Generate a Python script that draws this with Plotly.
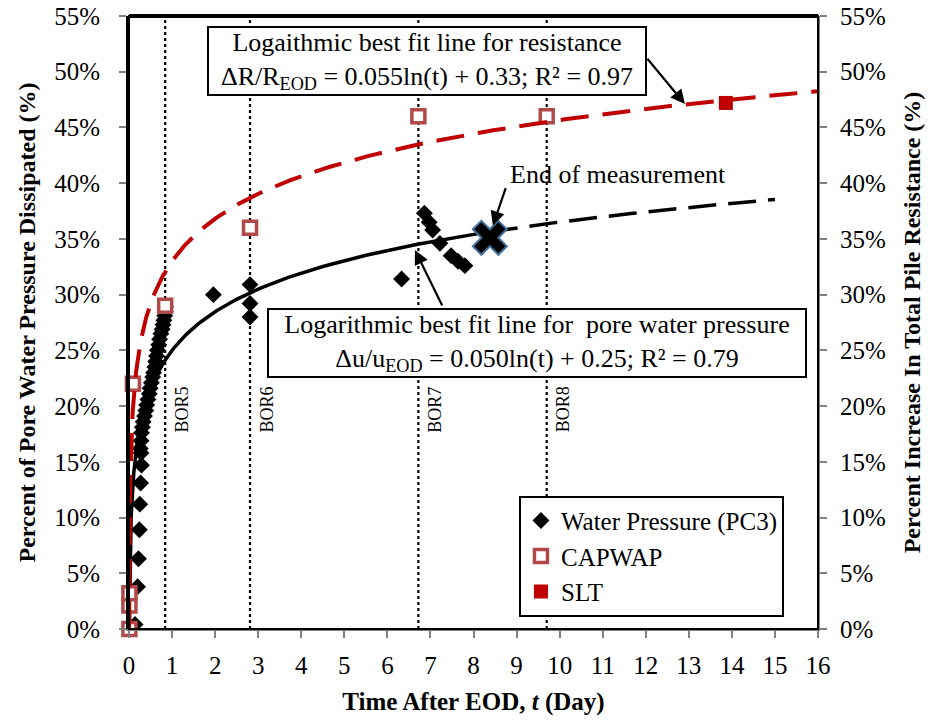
import numpy as np
import plotly.graph_objects as go

# ---------------- data ----------------
# Water pressure (PC3): time (day), percent dissipated
wp_t = [0.00, 0.14, 0.20, 0.22, 0.24, 0.25, 0.27, 0.29, 0.28,
        0.26, 0.28, 0.29, 0.31, 0.33, 0.36, 0.39, 0.41, 0.44, 0.47, 0.49,
        0.52, 0.55, 0.57, 0.60, 0.62, 0.64, 0.66, 0.69, 0.71, 0.74, 0.77,
        0.79, 0.81, 0.83, 0.84, 0.85,
        1.96, 2.81, 2.81, 2.81, 6.33, 6.86, 6.97, 7.05, 7.22, 7.48, 7.64, 7.80]
wp_v = [0.0, 0.4, 3.8, 6.3, 8.9, 11.2, 13.1, 14.7, 15.8,
        16.2, 16.9, 17.6, 18.1, 18.6, 19.1, 19.6, 20.1, 20.6, 21.1, 21.6,
        22.1, 22.6, 23.0, 23.5, 24.0, 24.5, 25.0, 25.5, 26.0, 26.5, 26.9,
        27.3, 27.7, 28.1, 28.5, 28.9,
        30.0, 30.9, 29.2, 28.0, 31.4, 37.3, 36.5, 35.8, 34.6, 33.5, 33.0, 32.6]

# CAPWAP (percent increase in total pile resistance)
cap_t = [0.01, 0.01, 0.01, 0.09, 0.84, 2.81, 6.72, 9.70]
cap_v = [0.0, 2.1, 3.2, 22.0, 29.0, 36.0, 46.0, 46.0]

# Static load test
slt_t = [13.86]
slt_v = [47.2]

# End of measurement
end_t = [8.38]
end_v = [35.1]

# Restrike times (BOR)
bor_t = [0.84, 2.81, 6.72, 9.70]
bor_lbl = ["BOR5", "BOR6", "BOR7", "BOR8"]

# Logarithmic best-fit coefficients (as shown on the chart)
res_a, res_b, res_tmax = 0.055, 0.33, 16.0
pwp_a, pwp_b, pwp_tmax = 0.050, 0.25, 15.0

x_ticks = list(range(0, 17))
y_ticks = list(range(0, 56, 5))

FONT = "Liberation Serif"
RED = "#c00000"
CAP = "#b04a4a"

# fit curves from the chart's equations
t_res = np.geomspace(np.exp(-res_b / res_a), res_tmax, 400)
v_res = 100 * (res_a * np.log(t_res) + res_b)
t_pw1 = np.geomspace(np.exp(-pwp_b / pwp_a), end_t[0], 400)
v_pw1 = 100 * (pwp_a * np.log(t_pw1) + pwp_b)
t_pw2 = np.linspace(end_t[0], pwp_tmax, 100)
v_pw2 = 100 * (pwp_a * np.log(t_pw2) + pwp_b)

fig = go.Figure()

fig.add_trace(go.Scatter(x=wp_t, y=wp_v, mode="markers", name="Water Pressure (PC3)",
                         marker=dict(symbol="diamond", size=13, color="black"),
                         cliponaxis=False))
fig.add_trace(go.Scatter(x=cap_t, y=cap_v, mode="markers", name="CAPWAP", yaxis="y2",
                         marker=dict(symbol="square", size=13, color="white",
                                     line=dict(color=CAP, width=3.5)),
                         cliponaxis=False))
fig.add_trace(go.Scatter(x=slt_t, y=slt_v, mode="markers", name="SLT", yaxis="y2",
                         marker=dict(symbol="square", size=14, color=RED),
                         cliponaxis=False))
fig.add_trace(go.Scatter(x=t_res, y=v_res, mode="lines", showlegend=False, yaxis="y2",
                         line=dict(color=RED, width=4, dash="28px,14px"), hoverinfo="skip"))
fig.add_trace(go.Scatter(x=t_pw1, y=v_pw1, mode="lines", showlegend=False,
                         line=dict(color="black", width=3.5), hoverinfo="skip"))
fig.add_trace(go.Scatter(x=t_pw2, y=v_pw2, mode="lines", showlegend=False,
                         line=dict(color="black", width=3.5, dash="28px,12px"), hoverinfo="skip"))
fig.add_trace(go.Scatter(x=end_t, y=end_v, mode="markers", showlegend=False,
                         marker=dict(symbol="x", size=30, color="black",
                                     line=dict(color="#41719c", width=2)),
                         cliponaxis=False))

shapes = []
for bt in bor_t:
    shapes.append(dict(type="line", xref="x", yref="paper", x0=bt, x1=bt, y0=0, y1=1,
                       line=dict(color="black", width=2.2, dash="dot"), layer="below"))
shapes.append(dict(type="rect", xref="paper", yref="paper", x0=0, x1=1, y0=0, y1=1,
                   line=dict(color="black", width=2)))
shapes.append(dict(type="line", xref="paper", yref="paper", x0=0, x1=1, y0=1, y1=1,
                   line=dict(color="black", width=4)))

ann = []
for bt, lb in zip(bor_t, bor_lbl):
    ann.append(dict(x=bt, y=19.7, xref="x", yref="y", text=lb, showarrow=False,
                    textangle=-90, xshift=17, font=dict(family=FONT, size=18, color="black")))

ann.append(dict(x=6.92, y=51.0, xref="x", yref="y",
                text="Logaithmic best fit line for resistance<br>ΔR/R<sub>EOD</sub> = 0.055ln(t) + 0.33; R² = 0.97",
                showarrow=False, bgcolor="white", bordercolor="black", borderwidth=2,
                borderpad=2, width=432, height=62,
                font=dict(family=FONT, size=26, color="black")))
ann.append(dict(x=9.48, y=25.7, xref="x", yref="y",
                text="Logarithmic best fit line for \u00a0pore water pressure<br>Δu/u<sub>EOD</sub> = 0.050ln(t) + 0.25; R² = 0.79",
                showarrow=False, bgcolor="white", bordercolor="black", borderwidth=2,
                borderpad=2, width=532, height=62,
                font=dict(family=FONT, size=26, color="black")))
ann.append(dict(x=11.36, y=40.75, xref="x", yref="y", text="End of measurement",
                showarrow=False, font=dict(family=FONT, size=26, color="black")))
# arrows
for (hx, hy, tx, ty) in [(12.91, 47.1, 12.01, 51.3), (6.64, 34.0, 7.29, 28.9), (8.45, 36.2, 8.76, 39.7)]:
    ann.append(dict(x=hx, y=hy, ax=tx, ay=ty, xref="x", yref="y", axref="x", ayref="y",
                    text="", showarrow=True, arrowhead=2, arrowsize=1.3, arrowwidth=2.2,
                    arrowcolor="black"))

fig.update_layout(
    width=930, height=723,
    margin=dict(l=129, r=112, t=16, b=94, autoexpand=False),
    paper_bgcolor="white", plot_bgcolor="white",
    font=dict(family=FONT, size=24, color="black"),
    xaxis=dict(range=[0, 16], tickvals=x_ticks, ticktext=[str(v) for v in x_ticks],
               showgrid=False, zeroline=False, showline=True, linecolor="#808080", linewidth=2,
               ticks="outside", ticklen=7, tickcolor="#808080", tickwidth=1.5, automargin=False,
               tickfont=dict(family=FONT, size=25), ticklabelstandoff=6,
               title=dict(text="<b>Time After EOD, <i>t</i> (Day)</b>",
                          font=dict(family=FONT, size=25), standoff=14)),
    yaxis=dict(range=[0, 55], tickvals=y_ticks, ticktext=[f"{v}%" for v in y_ticks],
               showgrid=False, zeroline=False, showline=True, linecolor="black", linewidth=3,
               ticks="outside", ticklen=7, tickcolor="#808080", tickwidth=1.5, automargin=False,
               tickfont=dict(family=FONT, size=25), ticklabelstandoff=14,
               title=dict(text="<b>Percent of Pore Water Pressure Dissipated (%)</b>",
                          font=dict(family=FONT, size=24), standoff=12)),
    yaxis2=dict(range=[0, 55], tickvals=y_ticks, ticktext=[f"{v}%" for v in y_ticks],
                overlaying="y", side="right", showgrid=False, zeroline=False,
                showline=True, linecolor="#808080", linewidth=2, automargin=False,
                ticks="outside", ticklen=7, tickcolor="#808080", tickwidth=1.5,
                tickfont=dict(family=FONT, size=25), ticklabelstandoff=8,
                title=dict(text="<b>Percent Increase In Total Pile Resistance (%)</b>",
                           font=dict(family=FONT, size=24), standoff=18)),
    legend=dict(x=0.566, y=0.02, xanchor="left", yanchor="bottom",
                bgcolor="white", bordercolor="black", borderwidth=2,
                font=dict(family=FONT, size=25), itemwidth=30, tracegroupgap=0),
    shapes=shapes, annotations=ann, showlegend=True,
)

# remove the browser's default 8px page margin so the figure fills the window
fig.write_html("out.html", config={"displayModeBar": False},
               post_script="document.body.style.margin='0px';")
